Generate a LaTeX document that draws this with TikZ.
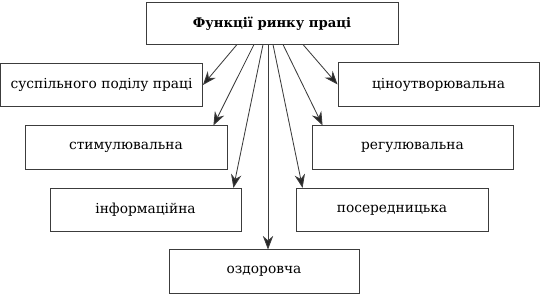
\documentclass[tikz,border=0pt]{standalone}
\usepackage{fontspec}
\setmainfont{DejaVu Serif}
\usetikzlibrary{arrows.meta,positioning,calc}
\definecolor{boxgray}{RGB}{60,60,60}
\definecolor{linegray}{RGB}{60,60,60}
\tikzset{
    func/.style={rectangle, draw=boxgray, line width=0.6pt, fill=white, minimum height=10.8mm, font=\fontsize{9.8}{11}\selectfont, inner sep=0pt},
    title/.style={func, minimum width=63mm, minimum height=10.3mm, font=\fontsize{9.4}{11}\selectfont\bfseries},
    link/.style={draw=linegray, line width=0.6pt, -{Stealth[length=3.4mm, width=2.6mm, fill=black!85]}},
}

\begin{document}
\begin{tikzpicture}[x=0.25mm, y=-0.25mm]
    \useasboundingbox (0,0) rectangle (540,300);

    % Main box
    \node[title] (F) at (272, 23.5) {Функції ринку праці};

    % Left column
    \node[func, minimum width=50.5mm] (S) at (101.5, 85) {суспільного поділу праці};
    \node[func, minimum width=50.5mm] (St) at (126, 147.5) {стимулювальна};
    \node[func, minimum width=47.75mm] (I) at (145.5, 210) {інформаційна};

    % Right column
    \node[func, minimum width=50.25mm] (C) at (438.5, 84.5) {ціноутворювальна};
    \node[func, minimum width=50.25mm] (R) at (412.5, 147.5) {регулювальна};
    \node[func, minimum width=48mm] (P) at (392, 210) {посередницька};

    % Bottom
    \node[func, minimum width=47.5mm] (O) at (264, 271.5) {оздоровча};

    % Arrows
    \draw[link] ([xshift=-35*0.25mm]F.south) -- (S.east);
    \draw[link] ([xshift=-18*0.25mm]F.south) -- ([xshift=-14*0.25mm]St.north east);
    \draw[link] ([xshift=-9*0.25mm]F.south) -- ([xshift=-8*0.25mm]I.north east);
    \draw[link] ([xshift=-4*0.25mm]F.south) -- ([xshift=4*0.25mm]O.north);
    \draw[link] ([xshift=1*0.25mm]F.south) -- ([xshift=7*0.25mm]P.north west);
    \draw[link] ([xshift=11*0.25mm]F.south) -- ([xshift=11*0.25mm]R.north west);
    \draw[link] ([xshift=31*0.25mm]F.south) -- (C.west);
\end{tikzpicture}
\end{document}
